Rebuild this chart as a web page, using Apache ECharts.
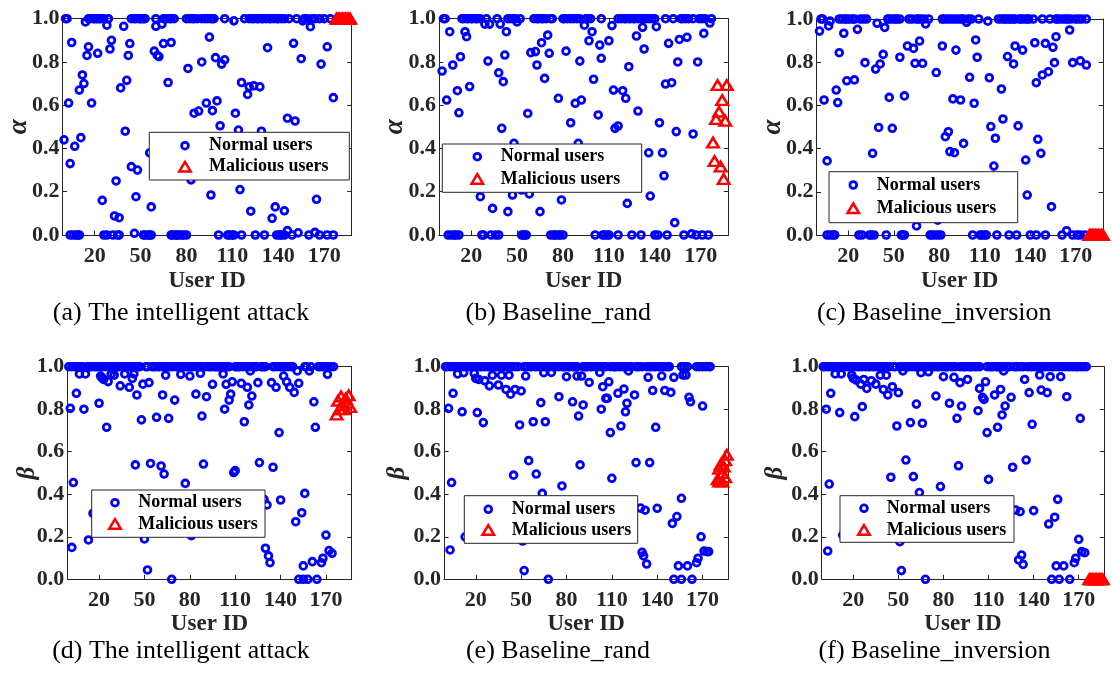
<!DOCTYPE html>
<html>
<head>
<meta charset="utf-8">
<title>Trust parameters per user</title>
<script src="https://cdn.jsdelivr.net/npm/echarts@6.0.0/dist/echarts.min.js"></script>
<style>
  html, body { margin: 0; padding: 0; background: #ffffff; }
  #chart { width: 1112px; height: 675px; }
</style>
</head>
<body>
<div id="chart"></div>
<script>
// ---------------------------------------------------------------
// Data: user IDs whose parameter sits at 1.0 / 0.0, other normal
// users as [id, value] pairs, and malicious users as [id, value].
// ---------------------------------------------------------------
const userIdTicks = [20, 50, 80, 110, 140, 170];

// (a) alpha, the intelligent attack
const alphaAttackAtOne = [1,2,16,17,19,20,21,22,23,24,26,29,44,46,47,49,50,51,52,53,60,65,67,69,70,72,80,82,84,85,87,90,92,94,96,97,98,105,118,121,123,124,126,127,129,130,132,134,135,137,139,140,142,144,147,152,157,159,162,164,167,170,174];
const alphaAttackAtZero = [4,6,8,9,10,26,28,32,35,36,52,53,55,56,57,70,71,73,74,75,77,78,80,101,107,108,110,111,116,125,131,139,141,142,144,149,160,167,172,176];
const alphaAttackOther = [[14,0.985],[111,0.99],[156,0.99],[46,0.008],[146,0.02],[153,0.01],[164,0.012],
  [0,0.44],[3,0.61],[4,0.33],[5,0.89],[7,0.41],[10,0.67],[11,0.45],[12,0.74],[13,0.70],[15,0.83],[16,0.87],[18,0.61],[22,0.84],[25,0.16],[28,0.97],[30,0.86],[31,0.90],[33,0.088],[34,0.25],[36,0.08],[37,0.68],[39,0.965],[40,0.48],[41,0.715],[42,0.83],[43,0.885],[44,0.316],[47,0.177],[48,0.30],[56,0.38],[57,0.13],[59,0.85],[60,0.965],[61,0.83],[62,0.825],[64,0.975],[65,0.885],[68,0.705],[70,0.89],[81,0.77],[83,0.255],[85,0.563],[88,0.573],[90,0.80],[93,0.61],[95,0.915],[96,0.185],[97,0.575],[99,0.82],[100,0.62],[102,0.505],[103,0.79],[105,0.81],[112,0.563],[114,0.485],[115,0.21],[116,0.705],[120,0.65],[121,0.685],[122,0.11],[124,0.69],[128,0.685],[129,0.48],[133,0.866],[136,0.077],[138,0.13],[144,0.112],[146,0.54],[150,0.886],[151,0.527],[155,0.815],[161,0.963],[165,0.165],[168,0.79],[172,0.87],[176,0.635]];
const alphaAttackMalicious = [[178,1],[179,1],[180,1],[181,1],[182,1],[183,1],[184,1],[185,1],[186,1],[187,1]];

// (b) alpha, Baseline_rand
const alphaRandAtOne = [2,3,14,15,17,18,20,21,23,24,26,30,37,44,46,48,49,52,61,63,64,66,67,69,72,73,80,81,83,85,87,89,91,95,96,98,105,116,118,120,121,123,124,126,127,129,131,133,134,136,138,140,147,152,157,158,160,162,165,169,171,173,177];
const alphaRandAtZero = [5,7,9,10,12,27,28,33,36,38,53,54,55,56,72,74,75,77,78,80,101,106,107,109,110,116,125,131,140,142,148,159,167,171,175];
const alphaRandOther = [[50,0.985],[176,0.98],[164,0.005],
  [1,0.758],[4,0.624],[6,0.94],[8,0.786],[11,0.667],[12,0.565],[13,0.824],[16,0.94],[17,0.917],[19,0.686],[26,0.177],[29,0.975],[31,0.804],[32,0.975],[34,0.123],[38,0.75],[39,0.975],[40,0.493],[41,0.709],[42,0.832],[43,0.94],[44,0.108],[47,0.185],[48,0.424],[53,0.208],[57,0.562],[58,0.19],[59,0.843],[62,0.848],[63,0.786],[65,0.108],[66,0.889],[68,0.724],[70,0.924],[71,0.84],[77,0.632],[79,0.162],[82,0.85],[85,0.519],[88,0.609],[90,0.424],[91,0.804],[92,0.624],[94,0.97],[97,0.898],[99,0.94],[100,0.72],[103,0.555],[104,0.878],[105,0.817],[110,0.898],[112,0.968],[113,0.67],[114,0.493],[116,0.504],[119,0.667],[121,0.632],[122,0.146],[123,0.778],[128,0.92],[129,0.573],[132,0.96],[133,0.86],[136,0.38],[137,0.18],[141,0.963],[143,0.519],[145,0.38],[146,0.274],[147,0.698],[149,0.886],[151,0.704],[153,0.057],[154,0.478],[155,0.80],[156,0.904],[161,0.914],[165,0.467],[168,0.80],[172,0.932]];
const alphaRandMalicious = [[178,0.427],[179,0.342],[180,0.536],[181,0.693],[182,0.570],[183,0.316],[184,0.624],[185,0.259],[186,0.528],[187,0.693]];

// (c) alpha, Baseline_inversion
const alphaInvAtOne = [2,3,14,16,18,19,21,23,24,28,30,32,46,47,49,51,52,54,60,62,65,66,68,70,73,82,83,85,87,89,91,93,95,96,99,101,106,119,121,123,124,126,127,129,130,133,134,136,138,139,142,148,153,157,158,160,162,164,165,167,170,172,174,177];
const alphaInvAtZero = [6,8,10,11,27,29,34,35,37,45,55,56,57,74,75,77,79,81,102,107,108,110,111,118,126,131,140,144,150,161,168,171,173,176];
const alphaInvOther = [[8,0.99],[98,0.985],[112,0.99],[164,0.02],[65,0.042],[79,0.069],
  [1,0.944],[4,0.625],[6,0.343],[7,0.968],[12,0.671],[13,0.613],[14,0.844],[17,0.934],[19,0.714],[24,0.718],[26,0.952],[31,0.798],[36,0.378],[38,0.768],[39,0.98],[40,0.498],[41,0.792],[43,0.836],[44,0.961],[47,0.637],[49,0.494],[54,0.823],[57,0.644],[59,0.875],[63,0.864],[64,0.795],[67,0.898],[69,0.795],[71,0.977],[78,0.752],[82,0.875],[84,0.455],[86,0.478],[87,0.386],[89,0.63],[90,0.381],[91,0.856],[94,0.625],[96,0.424],[100,0.73],[103,0.61],[104,0.903],[105,0.823],[113,0.728],[114,0.502],[116,0.319],[117,0.448],[121,0.676],[122,0.537],[125,0.826],[129,0.792],[130,0.875],[132,0.505],[135,0.856],[137,0.347],[138,0.185],[143,0.89],[144,0.705],[145,0.443],[147,0.378],[148,0.741],[150,0.887],[152,0.756],[154,0.131],[155,0.869],[156,0.798],[157,0.918],[166,0.949],[168,0.798],[173,0.806],[177,0.787]];
const alphaInvMalicious = [[179,0],[180,0],[181,0],[182,0],[183,0],[184,0],[185,0],[186,0],[187,0],[188,0]];

// (d) beta, the intelligent attack
const betaAttackAtOne = [0,2,4,6,8,9,12,14,15,17,18,19,21,22,24,26,27,29,31,32,33,35,36,38,39,41,43,44,46,47,51,52,55,56,57,59,60,62,64,66,67,69,71,72,73,75,76,78,79,81,82,84,85,86,88,90,92,93,94,96,97,98,99,100,101,103,105,106,110,111,112,113,115,117,118,120,122,123,124,127,128,129,130,135,136,138,140,141,142,143,145,147,148,156,157,160,165,166,168,169,171,173,175];
const betaAttackAtZero = [68,152,155,158,164];
const betaAttackOther = [[1,0.804],[2,0.15],[3,0.455],[5,0.875],[7,0.966],[10,0.80],[11,0.966],[13,0.185],[16,0.31],[20,0.828],[21,0.956],[22,0.948],[23,0.94],[25,0.715],[26,0.93],[28,0.965],[30,0.96],[34,0.91],[37,0.966],[40,0.903],[42,0.945],[43,0.966],[44,0.538],[45,0.867],[48,0.75],[49,0.918],[50,0.19],[52,0.044],[53,0.925],[54,0.545],[58,0.762],[61,0.533],[62,0.867],[63,0.495],[64,0.96],[66,0.757],[70,0.843],[74,0.964],[77,0.451],[80,0.956],[81,0.205],[84,0.871],[87,0.969],[88,0.768],[89,0.542],[91,0.859],[95,0.917],[102,0.966],[103,0.80],[104,0.917],[106,0.843],[107,0.871],[108,0.929],[109,0.502],[110,0.511],[114,0.922],[116,0.741],[118,0.903],[119,0.82],[120,0.98],[121,0.862],[125,0.925],[126,0.549],[129,0.376],[130,0.146],[131,0.35],[132,0.11],[133,0.078],[134,0.925],[135,0.527],[137,0.903],[139,0.69],[140,0.373],[142,0.956],[144,0.929],[146,0.903],[149,0.879],[150,0.271],[151,0.98],[152,0.922],[154,0.313],[155,0.063],[156,0.404],[159,0.98],[161,0.083],[162,0.835],[163,0.715],[167,0.078],[168,0.099],[170,0.208],[171,0.964],[172,0.135],[174,0.122]];
const betaAttackMalicious = [[177,0.775],[178,0.84],[179,0.80],[180,0.86],[181,0.82],[182,0.80],[183,0.85],[184,0.83],[185,0.865],[186,0.81]];

// (e) beta, Baseline_rand
const betaRandAtOne = [0,1,3,5,7,9,10,12,14,15,17,18,20,21,23,24,26,28,29,31,33,34,36,38,39,41,43,44,46,48,52,54,56,57,59,60,62,64,66,67,69,71,72,73,75,77,78,79,81,82,84,85,86,87,91,92,93,94,96,97,99,100,101,103,105,106,109,111,112,113,115,117,118,120,122,123,126,127,128,130,133,135,136,138,139,141,142,144,146,147,148,156,158,160,166,168,170,172,174,175];
const betaRandAtZero = [68,151,156,163];
const betaRandOther = [[2,0.804],[3,0.138],[4,0.455],[5,0.875],[8,0.966],[11,0.788],[12,0.972],[13,0.20],[19,0.969],[20,0.945],[21,0.784],[22,0.94],[25,0.737],[26,0.934],[29,0.91],[31,0.96],[35,0.914],[37,0.96],[40,0.893],[42,0.96],[43,0.871],[45,0.49],[46,0.893],[49,0.726],[50,0.886],[51,0.18],[52,0.041],[53,0.956],[55,0.558],[58,0.741],[60,0.495],[63,0.831],[64,0.404],[65,0.972],[66,0.741],[70,0.973],[75,0.859],[77,0.439],[80,0.953],[84,0.835],[87,0.956],[88,0.768],[89,0.538],[90,0.956],[91,0.82],[95,0.926],[102,0.973],[103,0.80],[104,0.906],[106,0.851],[107,0.851],[108,0.929],[109,0.69],[110,0.475],[114,0.875],[116,0.721],[118,0.895],[119,0.788],[120,0.828],[121,0.98],[125,0.867],[126,0.549],[129,0.335],[130,0.127],[131,0.11],[132,0.325],[133,0.072],[134,0.95],[135,0.549],[137,0.888],[139,0.715],[140,0.334],[143,0.956],[145,0.888],[149,0.879],[150,0.263],[151,0.95],[153,0.295],[154,0.063],[156,0.381],[157,0.961],[159,0.961],[160,0.063],[161,0.856],[162,0.835],[166,0.078],[167,0.099],[169,0.20],[170,0.815],[171,0.133],[173,0.13],[174,0.13]];
const betaRandMalicious = [[180,0.47],[181,0.52],[181,0.46],[182,0.54],[183,0.50],[183,0.46],[184,0.53],[185,0.48],[185,0.56],[186,0.585]];

// (f) beta, Baseline_inversion
const betaInvAtOne = [0,1,3,5,6,8,10,11,13,14,16,17,19,21,23,24,26,28,30,31,33,34,36,37,39,41,42,44,47,48,51,52,54,56,57,59,61,62,64,66,67,69,71,72,73,74,76,77,79,81,82,83,85,86,88,91,93,94,95,97,98,99,101,102,104,109,111,112,113,115,116,117,119,120,122,123,124,127,128,129,131,133,136,138,139,141,142,143,145,146,147,148,150,152,153,155,157,159,161,163,164,166,168,169,171,173,175];
const betaInvAtZero = [68,152,157,164];
const betaInvOther = [[2,0.80],[3,0.133],[4,0.448],[5,0.875],[8,0.966],[11,0.784],[12,0.966],[13,0.208],[19,0.96],[20,0.945],[21,0.765],[22,0.937],[25,0.918],[26,0.812],[27,0.94],[29,0.898],[32,0.934],[35,0.918],[38,0.96],[40,0.893],[42,0.96],[43,0.867],[45,0.48],[46,0.906],[49,0.721],[50,0.878],[51,0.177],[52,0.041],[53,0.98],[55,0.561],[58,0.737],[60,0.483],[62,0.824],[64,0.408],[65,0.972],[66,0.734],[70,0.976],[75,0.862],[78,0.436],[80,0.953],[84,0.828],[87,0.95],[89,0.757],[90,0.534],[91,0.925],[92,0.815],[96,0.94],[103,0.793],[104,0.898],[106,0.856],[107,0.846],[108,0.929],[109,0.69],[110,0.47],[114,0.867],[116,0.715],[118,0.893],[119,0.773],[120,0.98],[121,0.815],[125,0.856],[126,0.527],[128,0.326],[130,0.091],[131,0.318],[132,0.114],[133,0.07],[134,0.94],[135,0.561],[137,0.878],[139,0.729],[140,0.323],[144,0.961],[145,0.89],[149,0.878],[150,0.26],[151,0.953],[154,0.292],[155,0.063],[156,0.376],[158,0.953],[160,0.063],[162,0.859],[167,0.078],[168,0.099],[170,0.188],[171,0.757],[172,0.13],[174,0.125]];
const betaInvMalicious = [[177,0],[178,0],[179,0],[180,0],[181,0],[182,0],[183,0],[184,0],[185,0],[186,0]];

const panelTitles = ['(a) The intelligent attack', '(b) Baseline_rand', '(c) Baseline_inversion',
                     '(d) The intelligent attack', '(e) Baseline_rand', '(f) Baseline_inversion'];
const legendNames = ['Normal users', 'Malicious users'];

// ---------------------------------------------------------------
// Panels and their placement on the page
// ---------------------------------------------------------------
const panels = [
  { symbol: 'α', ones: alphaAttackAtOne, zeros: alphaAttackAtZero, other: alphaAttackOther, mal: alphaAttackMalicious },
  { symbol: 'α', ones: alphaRandAtOne,   zeros: alphaRandAtZero,   other: alphaRandOther,   mal: alphaRandMalicious },
  { symbol: 'α', ones: alphaInvAtOne,    zeros: alphaInvAtZero,    other: alphaInvOther,    mal: alphaInvMalicious },
  { symbol: 'β', ones: betaAttackAtOne,  zeros: betaAttackAtZero,  other: betaAttackOther,  mal: betaAttackMalicious },
  { symbol: 'β', ones: betaRandAtOne,    zeros: betaRandAtZero,    other: betaRandOther,    mal: betaRandMalicious },
  { symbol: 'β', ones: betaInvAtOne,     zeros: betaInvAtZero,     other: betaInvOther,     mal: betaInvMalicious }
];

const layouts = [
  { left: 62.5,  top: 18.7,  width: 289.2, height: 216.3, xMax: 188, xGap: 35, yGap: 30, nameSize: 27,
    caption: [181, 313], legend: { x: 149.3, y: 132.3, w: 200, h: 47.7, mx: 185, tx: 209, r1: 145.7, r2: 166.7 } },
  { left: 439,   top: 18.7,  width: 289.3, height: 216.3, xMax: 188, xGap: 35, yGap: 30.5, nameSize: 27,
    caption: [558.3, 313], legend: { x: 442.3, y: 144, w: 199.4, h: 48.3, mx: 477.3, tx: 500.7, r1: 156.7, r2: 179 } },
  { left: 816.5, top: 19,    width: 286.5, height: 216,   xMax: 188, xGap: 35, yGap: 30.3, nameSize: 27,
    caption: [934.2, 313], legend: { x: 829, y: 171.7, w: 188.7, h: 51, mx: 853.3, tx: 876.7, r1: 185, r2: 208.3 } },
  { left: 67.3,  top: 366.7, width: 284.4, height: 212.6, xMax: 187, xGap: 30, yGap: 27, nameSize: 25,
    caption: [181, 651.5], legend: { x: 91.7, y: 490, w: 173.3, h: 47.3, mx: 115, tx: 138.3, r1: 502.7, r2: 524 } },
  { left: 444,   top: 366.7, width: 284.3, height: 212.6, xMax: 187, xGap: 30, yGap: 33.5, nameSize: 25,
    caption: [558, 651.5], legend: { x: 464.3, y: 495.7, w: 173.4, h: 47.6, mx: 488.3, tx: 511.7, r1: 509.3, r2: 530 } },
  { left: 821.7, top: 366.7, width: 282.6, height: 212.6, xMax: 187, xGap: 30, yGap: 34, nameSize: 25,
    caption: [934.5, 651.5], legend: { x: 840, y: 495.7, w: 174, h: 46.6, mx: 864, tx: 886.7, r1: 508.3, r2: 530 } }
];

const FONT = '"Liberation Serif", "Times New Roman", serif';
const AXIS_COLOR = '#262626';
const BLUE = '#0000ff';
const RED = '#ff0000';

const axisLine = { show: true, onZero: false, lineStyle: { color: AXIS_COLOR, width: 1 } };
const tickStyle = { color: AXIS_COLOR, width: 1 };

const grid = [], xAxis = [], yAxis = [], series = [], graphic = [];

panels.forEach(function (p, i) {
  const L = layouts[i];
  grid.push({ left: L.left, top: L.top, width: L.width, height: L.height, containLabel: false });

  // bottom axis with labels, top axis closing the box
  xAxis.push({
    gridIndex: i, type: 'value', min: -1, max: L.xMax, position: 'bottom',
    axisLine: axisLine,
    axisTick: { show: true, inside: true, length: 4.5, customValues: userIdTicks, lineStyle: tickStyle },
    axisLabel: { show: true, customValues: userIdTicks, margin: 10, fontFamily: FONT, fontWeight: 'bold',
                 fontSize: 22, color: AXIS_COLOR },
    splitLine: { show: false },
    name: 'User ID', nameLocation: 'middle', nameGap: L.xGap,
    nameTextStyle: { fontFamily: FONT, fontWeight: 'bold', fontSize: 23, color: AXIS_COLOR }
  });
  xAxis.push({
    gridIndex: i, type: 'value', min: -1, max: L.xMax, position: 'top',
    axisLine: axisLine,
    axisTick: { show: true, inside: true, length: 4.5, customValues: userIdTicks, lineStyle: tickStyle },
    axisLabel: { show: false }, splitLine: { show: false }
  });

  // left axis with labels, right axis closing the box
  yAxis.push({
    gridIndex: i, type: 'value', min: 0, max: 1, interval: 0.2, position: 'left',
    axisLine: axisLine,
    axisTick: { show: true, inside: true, length: 4.5, lineStyle: tickStyle },
    axisLabel: { show: true, margin: 3, fontFamily: FONT, fontWeight: 'bold', fontSize: 22, color: AXIS_COLOR,
                 formatter: function (v) { return v.toFixed(1); } },
    splitLine: { show: false },
    name: p.symbol, nameLocation: 'middle', nameGap: L.yGap, nameMoveOverlap: false,
    nameTextStyle: { fontFamily: FONT, fontWeight: 'bold', fontStyle: 'italic', fontSize: L.nameSize, color: AXIS_COLOR }
  });
  yAxis.push({
    gridIndex: i, type: 'value', min: 0, max: 1, interval: 0.2, position: 'right',
    axisLine: axisLine,
    axisTick: { show: true, inside: true, length: 4.5, lineStyle: tickStyle },
    axisLabel: { show: false }, splitLine: { show: false }
  });

  const normalData = p.ones.map(function (id) { return [id, 1]; })
    .concat(p.zeros.map(function (id) { return [id, 0]; }))
    .concat(p.other);

  series.push({
    name: legendNames[0], type: 'scatter', xAxisIndex: 2 * i, yAxisIndex: 2 * i,
    data: normalData, symbol: 'circle', symbolSize: 6.8, clip: false,
    itemStyle: { color: 'rgba(0,0,0,0)', borderColor: BLUE, borderWidth: 2.8, opacity: 1 },
    emphasis: { disabled: true }, silent: true, z: 3
  });
  series.push({
    name: legendNames[1], type: 'scatter', xAxisIndex: 2 * i, yAxisIndex: 2 * i,
    data: p.mal, symbol: 'triangle', symbolSize: [11.5, 9.6], clip: false,
    itemStyle: { color: 'rgba(0,0,0,0)', borderColor: RED, borderWidth: 2.5, opacity: 1 },
    emphasis: { disabled: true }, silent: true, z: 4
  });

  // legend box drawn over the plot
  const g = L.legend;
  graphic.push({ type: 'rect', silent: true, z: 100,
    shape: { x: g.x, y: g.y, width: g.w, height: g.h },
    style: { fill: '#ffffff', stroke: AXIS_COLOR, lineWidth: 1 } });
  graphic.push({ type: 'circle', silent: true, z: 101,
    shape: { cx: g.mx, cy: g.r1, r: 3.4 },
    style: { fill: 'none', stroke: BLUE, lineWidth: 2.8 } });
  graphic.push({ type: 'polygon', silent: true, z: 101,
    shape: { points: [[g.mx, g.r2 - 4.8], [g.mx - 5.75, g.r2 + 4.8], [g.mx + 5.75, g.r2 + 4.8]] },
    style: { fill: 'none', stroke: RED, lineWidth: 2.5, lineJoin: 'miter' } });
  graphic.push({ type: 'text', silent: true, z: 101, x: g.tx, y: g.r1,
    style: { text: legendNames[0], font: 'bold 18px ' + FONT, fill: '#000000',
             textAlign: 'left', textVerticalAlign: 'middle' } });
  graphic.push({ type: 'text', silent: true, z: 101, x: g.tx, y: g.r2,
    style: { text: legendNames[1], font: 'bold 18px ' + FONT, fill: '#000000',
             textAlign: 'left', textVerticalAlign: 'middle' } });

  // panel caption
  graphic.push({ type: 'text', silent: true, z: 101, x: L.caption[0], y: L.caption[1],
    style: { text: panelTitles[i], font: '26px ' + FONT, fill: '#000000',
             textAlign: 'center', textVerticalAlign: 'middle' } });
});

const chart = echarts.init(document.getElementById('chart'), null, { renderer: 'canvas' });
chart.setOption({
  backgroundColor: '#ffffff',
  animation: false,
  grid: grid,
  xAxis: xAxis,
  yAxis: yAxis,
  series: series,
  graphic: { elements: graphic }
});
</script>
</body>
</html>
